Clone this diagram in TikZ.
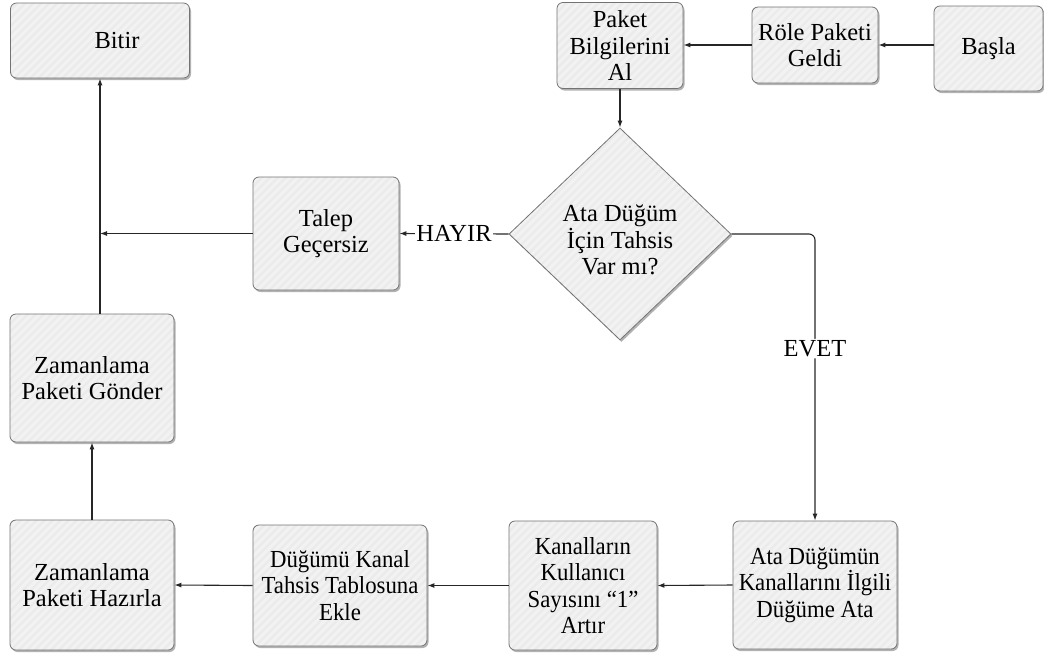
\documentclass[tikz,border=0pt]{standalone}
\usepackage{fontspec}
\newfontfamily\boxfont{Liberation Serif}
\usetikzlibrary{shapes.geometric,shadows,arrows.meta}

% horizontally condensed text line
\newcommand{\narrow}[1]{\scalebox{0.93}[1]{#1}}

\tikzset{
  stripes/.style={
    path picture={
      \foreach \k in {-260,-252,...,260}
        \draw[black!5, line width=3pt]
          ([xshift=\k pt]path picture bounding box.center) ++(-160pt,-160pt) -- ++(320pt,320pt);
    }
  },
  stepbox/.style={
    rectangle, rounded corners=6pt, draw=black!55, line width=0.8pt,
    fill=black!8, align=center, inner sep=2pt, stripes,
    drop shadow={shadow xshift=1.5pt, shadow yshift=-2pt, opacity=0.3, fill=black}
  },
  decision/.style={
    diamond, draw=black!55, line width=0.8pt, fill=black!8,
    inner sep=0pt, stripes,
    drop shadow={shadow xshift=1.5pt, shadow yshift=-2pt, opacity=0.3, fill=black}
  },
  plain/.style={align=center, inner sep=0pt},
  link/.style={draw=black!85, line width=1.1pt},
  arr/.style={link, -{Latex[length=7pt,width=5pt]}},
  tag/.style={fill=white, inner sep=1.5pt}
}

\begin{document}
\begin{tikzpicture}[x=1pt, y=-1pt, font=\boxfont\fontsize{24.5}{26.5}\selectfont]
\useasboundingbox (0,0) rectangle (1044,657);

% top row
\node[stepbox, minimum width=179pt, minimum height=75pt] (bitir) at (100,40.5) {\hspace*{34pt}Bitir};
\node[stepbox, minimum width=126pt, minimum height=86pt] (paket) at (620,45.5) {Paket\\Bilgilerini\\Al};
\node[stepbox, minimum width=126pt, minimum height=76pt] (role) at (815,45) {Röle Paketi\\Geldi};
\node[stepbox, minimum width=109pt, minimum height=85pt] (basla) at (988.5,48.5) {Başla};

% middle row
\node[decision, minimum width=222pt, minimum height=212pt] (karar) at (620,234) {};
\node[plain] (kararyazi) at (620,240) {Ata Düğüm\\İçin Tahsis\\Var mı?};
\node[stepbox, minimum width=146pt, minimum height=113pt] (talep) at (326,233.5) {Talep\\Geçersiz};
\node[stepbox, minimum width=164pt, minimum height=128pt] (gonder) at (92,378) {Zamanlama\\Paketi Gönder};

% bottom row
\node[stepbox, minimum width=164pt, minimum height=130pt] (hazirla) at (92,585) {Zamanlama\\Paketi Hazırla};
\node[stepbox, minimum width=174pt, minimum height=121pt] (ekle) at (340,585.5) {\narrow{Düğümü Kanal}\\\narrow{Tahsis Tablosuna}\\\narrow{Ekle}};
\node[stepbox, minimum width=148pt, minimum height=129pt] (artir) at (583,585.5) {\narrow{Kanalların}\\\narrow{Kullanıcı}\\\narrow{Sayısını “1”}\\\narrow{Artır}};
\node[stepbox, minimum width=164pt, minimum height=128pt] (ata) at (815,585) {\narrow{Ata Düğümün}\\\narrow{Kanallarını İlgili}\\\narrow{Düğüme Ata}};

% connectors
\draw[arr] (basla.west |- role.east) -- (role.east);
\draw[arr] (role.west) -- (paket.east |- role.west);
\draw[arr] (paket.south) -- (karar.north);
\draw[arr] (karar.west) -- node[tag] {HAYIR} (talep.east);
\coordinate (join) at (bitir.south |- talep.west);
\draw[arr] (talep.west) -- (join);
\draw[arr] (gonder.north -| bitir.south) -- (bitir.south);
\draw[arr] (hazirla.north) -- (gonder.south);
\coordinate (dog) at (ata.north |- karar.east);
\draw[arr, rounded corners=6pt] (karar.east) -- (dog) -- node[tag, pos=0.40] {EVET} (ata.north);
\draw[arr] (ata.west) -- (artir.east);
\draw[arr] (artir.west) -- (ekle.east);
\draw[arr] (ekle.west) -- (hazirla.east);
\end{tikzpicture}
\end{document}
